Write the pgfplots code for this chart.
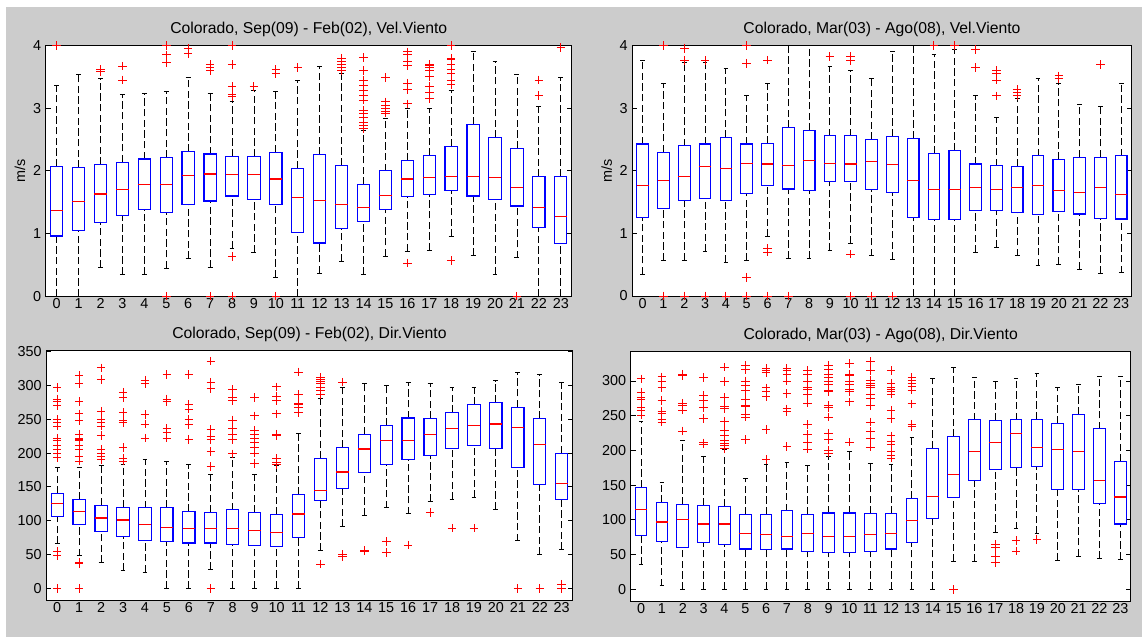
\documentclass[border=0pt]{standalone}
\usepackage{fontspec}
\setmainfont{Liberation Sans}
\usepackage{pgfplots}
\pgfplotsset{compat=1.18}
\usepgfplotslibrary{statistics}
\definecolor{figgray}{RGB}{204,204,204}
\definecolor{mblue}{RGB}{0,0,255}
\definecolor{mred}{RGB}{255,0,0}
\pgfplotsset{
  boxplot/draw/box/.code={\draw[mblue, line width=0.85pt] (boxplot box cs:\pgfplotsboxplotvalue{lower quartile},0) rectangle (boxplot box cs:\pgfplotsboxplotvalue{upper quartile},1);},
  boxplot/draw/median/.code={\draw[mred, line width=0.85pt] (boxplot box cs:\pgfplotsboxplotvalue{median},0) -- (boxplot box cs:\pgfplotsboxplotvalue{median},1);},
  boxplot/draw/lower whisker/.code={\draw[black, line width=0.65pt, dash pattern=on 5.5pt off 2.5pt] (boxplot box cs:\pgfplotsboxplotvalue{lower whisker},0.5) -- (boxplot box cs:\pgfplotsboxplotvalue{lower quartile},0.5);
     \draw[black, line width=0.75pt] (boxplot box cs:\pgfplotsboxplotvalue{lower whisker},0.3) -- (boxplot box cs:\pgfplotsboxplotvalue{lower whisker},0.7);},
  boxplot/draw/upper whisker/.code={\draw[black, line width=0.65pt, dash pattern=on 5.5pt off 2.5pt] (boxplot box cs:\pgfplotsboxplotvalue{upper quartile},0.5) -- (boxplot box cs:\pgfplotsboxplotvalue{upper whisker},0.5);
     \draw[black, line width=0.75pt] (boxplot box cs:\pgfplotsboxplotvalue{upper whisker},0.3) -- (boxplot box cs:\pgfplotsboxplotvalue{upper whisker},0.7);},
  bxp/.style={mark=+, mark size=3.2pt, mark options={mred, line width=0.7pt, solid}},
  every axis title shift=0pt,
  panel/.style={
    scale only axis, anchor=south west,
    xmin=-0.5, xmax=23.5, xtick={0,...,23},
    axis background/.style={fill=white},
    axis line style={black, line width=0.6pt},
    tick align=inside, xtick style={draw=none},
    ytick pos=both, yticklabel pos=left,
    major tick length=3.75pt,
    ytick style={black, line width=0.6pt},
    /pgf/number format/assume math mode=true,
    tick label style={font=\fontsize{10.8}{12}\selectfont},
    xticklabel style={inner sep=0pt, yshift=-1.5pt},
    yticklabel style={inner sep=0pt, xshift=-3.2pt},
    label style={font=\fontsize{10.8}{12}\selectfont},
    title style={font=\fontsize{11.8}{13}\selectfont, at={(0.5,1)}, anchor=base, yshift=9pt},
  }
}
\newcommand\B[7]{\addplot[bxp, boxplot prepared={draw direction=y, draw position=#1, box extend=0.56, lower whisker=#2, lower quartile=#3, median=#4, upper quartile=#5, upper whisker=#6}] table[row sep=\\, y index=0] {o\\#7};}
\newcommand\N[6]{\addplot[bxp, boxplot prepared={draw direction=y, draw position=#1, box extend=0.56, lower whisker=#2, lower quartile=#3, median=#4, upper quartile=#5, upper whisker=#6}] coordinates {};}
\begin{document}
\begin{tikzpicture}
\useasboundingbox (0,0) rectangle (856.5pt,477.75pt);
\fill[white] (0,0) rectangle (856.5pt,477.75pt);
\fill[figgray] (4.5pt,0) rectangle (856.5pt,472.5pt);

% Top-left
\begin{axis}[panel, at={(34.3pt,255.6pt)}, width=394.5pt, height=188pt,
  ymin=0, ymax=4, ytick={0,1,2,3,4}, ylabel={m/s},
  ylabel style={at={(axis description cs:-0.049,0.5)}, anchor=center},
  title={Colorado, Sep(09) - Feb(02), Vel.Viento}]
\B{0}{0}{0.96}{1.37}{2.07}{3.36}{4.0\\}
\N{1}{0}{1.05}{1.51}{2.05}{3.54}
\B{2}{0.46}{1.17}{1.63}{2.10}{3.47}{3.58\\3.62\\}
\B{3}{0.35}{1.29}{1.70}{2.14}{3.22}{3.45\\3.67\\}
\N{4}{0.35}{1.38}{1.78}{2.19}{3.23}
\B{5}{0.45}{1.34}{1.78}{2.21}{3.27}{4.0\\3.85\\3.73\\0\\}
\B{6}{0.60}{1.47}{1.92}{2.31}{3.49}{3.95\\3.87\\}
\B{7}{0.46}{1.52}{1.95}{2.27}{3.23}{3.70\\3.65\\3.60\\0\\}
\B{8}{0.76}{1.60}{1.94}{2.23}{3.10}{4.0\\3.70\\3.35\\3.22\\3.18\\0.63\\0\\}
\B{9}{0.70}{1.54}{1.94}{2.23}{3.28}{3.35\\}
\B{10}{0.30}{1.47}{1.87}{2.30}{3.27}{3.62\\3.55\\0\\}
\B{11}{0}{1.01}{1.57}{2.04}{3.45}{3.65\\}
\N{12}{0.37}{0.85}{1.53}{2.26}{3.66}
\B{13}{0.55}{1.08}{1.46}{2.09}{3.55}{3.80\\3.75\\3.70\\3.65\\3.60\\}
\B{14}{0.35}{1.19}{1.41}{1.78}{2.65}{3.81\\3.60\\3.44\\3.36\\3.28\\3.21\\3.13\\2.96\\2.91\\2.85\\2.78\\2.72\\2.68\\}
\B{15}{0.64}{1.39}{1.61}{2.00}{2.84}{3.49\\3.10\\3.05\\3.00\\2.95\\2.92\\}
\B{16}{0.72}{1.59}{1.87}{2.17}{3.00}{3.90\\3.85\\3.75\\3.68\\3.40\\3.30\\3.07\\0.53\\}
\B{17}{0.73}{1.62}{1.89}{2.24}{2.99}{3.70\\3.68\\3.65\\3.60\\3.50\\3.35\\3.25\\3.15\\}
\B{18}{0.95}{1.68}{1.91}{2.39}{3.29}{4.0\\3.80\\3.78\\3.70\\3.62\\3.55\\3.45\\3.38\\0.57\\}
\N{19}{0.65}{1.60}{1.91}{2.74}{3.91}
\N{20}{0.35}{1.54}{1.90}{2.53}{3.75}
\B{21}{0.61}{1.44}{1.74}{2.36}{3.54}{0\\}
\B{22}{0}{1.09}{1.41}{1.91}{3.02}{3.45\\3.20\\}
\B{23}{0}{0.84}{1.27}{1.91}{3.49}{3.97\\}
\end{axis}

% Top-right
\begin{axis}[panel, at={(474.2pt,255.75pt)}, width=374.5pt, height=187.7pt,
  ymin=0, ymax=4, ytick={0,1,2,3,4}, ylabel={m/s},
  ylabel style={at={(axis description cs:-0.0513,0.5)}, anchor=center},
  title={Colorado, Mar(03) - Ago(08), Vel.Viento}]
\N{0}{0.35}{1.26}{1.77}{2.43}{3.77}
\B{1}{0.57}{1.40}{1.84}{2.30}{3.39}{4.0\\0\\}
\B{2}{0.57}{1.53}{1.91}{2.40}{3.74}{3.96\\3.76\\0\\}
\B{3}{0.71}{1.56}{2.07}{2.43}{3.74}{3.76\\0\\}
\B{4}{0.54}{1.53}{2.04}{2.53}{3.64}{0\\}
\B{5}{0.57}{1.64}{2.12}{2.43}{3.20}{4.0\\3.72\\0.30\\0\\}
\B{6}{0.95}{1.77}{2.11}{2.44}{3.39}{3.77\\0.76\\0.70\\0\\}
\B{7}{0.60}{1.71}{2.09}{2.69}{4.3}{0\\}
\N{8}{0.60}{1.69}{2.16}{2.64}{4.3}
\B{9}{0.73}{1.83}{2.12}{2.56}{3.67}{3.83\\}
\B{10}{0.84}{1.83}{2.11}{2.56}{3.60}{3.83\\3.76\\0.67\\0\\}
\B{11}{0.64}{1.70}{2.15}{2.50}{3.48}{0\\}
\B{12}{0.58}{1.65}{2.10}{2.55}{3.91}{0\\}
\N{13}{0}{1.26}{1.84}{2.52}{4.3}
\B{14}{0}{1.22}{1.70}{2.28}{3.86}{4.0\\}
\B{15}{0}{1.22}{1.70}{2.33}{3.94}{4.0\\}
\B{16}{0.69}{1.36}{1.73}{2.11}{3.20}{3.94\\3.65\\}
\B{17}{0.78}{1.36}{1.70}{2.08}{2.85}{3.60\\3.55\\3.45\\3.20\\}
\B{18}{0.64}{1.34}{1.74}{2.07}{3.15}{3.30\\3.25\\3.20\\}
\N{19}{0.48}{1.30}{1.77}{2.24}{3.48}
\B{20}{0.51}{1.35}{1.68}{2.18}{3.39}{3.52\\3.48\\}
\N{21}{0.43}{1.31}{1.65}{2.22}{3.06}
\B{22}{0.36}{1.24}{1.73}{2.22}{3.03}{3.70\\}
\N{23}{0.37}{1.23}{1.62}{2.24}{3.40}
\end{axis}

% Bottom-left
\begin{axis}[panel, at={(34.7pt,27.75pt)}, width=394.8pt, height=187pt,
  ymin=-17.3, ymax=351.5, ytick={0,50,...,350},
  title={Colorado, Sep(09) - Feb(02), Dir.Viento}]
\B{0}{66}{106}{126}{140}{178}{297\\280\\276\\270\\250\\245\\240\\222\\218\\212\\205\\200\\193\\55\\48\\0\\}
\B{1}{48}{95}{114}{131}{179}{315\\303\\276\\258\\248\\228\\222\\220\\218\\212\\205\\195\\188\\38\\37\\0\\}
\B{2}{38}{84}{104}{123}{181}{326\\309\\262\\250\\245\\240\\226\\205\\200\\195\\190\\}
\B{3}{26}{77}{101}{120}{183}{290\\282\\260\\248\\245\\208\\192\\188\\}
\B{4}{24}{71}{94}{119}{190}{308\\303\\257\\243\\222\\}
\B{5}{0}{69}{90}{120}{187}{316\\280\\276\\236\\230\\222\\}
\B{6}{0}{67}{89}{114}{183}{316\\272\\265\\250\\242\\220\\}
\B{7}{28}{67}{89}{112}{169}{336\\305\\295\\235\\225\\220\\202\\180\\0\\}
\B{8}{0}{65}{89}{116}{194}{294\\282\\278\\249\\236\\227\\220\\199\\}
\B{9}{0}{63}{86}{112}{169}{282\\255\\234\\228\\222\\215\\208\\200\\185\\}
\B{10}{0}{62}{83}{109}{181}{298\\284\\278\\258\\228\\226\\192\\186\\183\\}
\B{11}{0}{75}{110}{139}{229}{320\\287\\274\\272\\268\\260\\}
\B{12}{56}{130}{145}{192}{281}{312\\309\\306\\303\\297\\292\\287\\36\\}
\B{13}{91}{147}{172}{208}{297}{305\\50\\47\\}
\B{14}{108}{171}{206}{228}{303}{56\\55\\}
\B{15}{119}{183}{219}{241}{300}{69\\53\\}
\B{16}{110}{191}{219}{252}{304}{64\\}
\B{17}{128}{196}{228}{251}{303}{112\\}
\B{18}{131}{207}{237}{260}{297}{89\\}
\B{19}{134}{211}{241}{272}{297}{89\\}
\N{20}{117}{207}{243}{275}{307}
\B{21}{70}{179}{238}{268}{319}{0\\}
\B{22}{50}{154}{213}{251}{316}{0\\}
\B{23}{57}{132}{155}{200}{304}{6\\0\\}
\end{axis}

% Bottom-right
\begin{axis}[panel, at={(473pt,27pt)}, width=375pt, height=187.5pt,
  ymin=-16.8, ymax=343.2, ytick={0,50,...,300},
  title={Colorado, Mar(03) - Ago(08), Dir.Viento}]
\B{0}{36}{77}{115}{147}{242}{303\\284\\276\\274\\262\\257\\251\\}
\B{1}{5}{69}{97}{125}{154}{306\\300\\290\\272\\256\\253\\245\\244\\241\\}
\B{2}{0}{60}{100}{122}{214}{310\\308\\268\\265\\258\\228\\}
\B{3}{0}{67}{94}{121}{192}{305\\279\\272\\262\\246\\211\\209\\}
\B{4}{0}{64}{94}{119}{201}{320\\299\\276\\264\\260\\242\\229\\222\\215\\210\\207\\203\\}
\B{5}{0}{58}{81}{108}{160}{322\\316\\300\\294\\286\\274\\265\\264\\252\\248\\216\\}
\B{6}{0}{57}{79}{108}{180}{318\\315\\312\\290\\285\\278\\230\\187\\}
\B{7}{0}{58}{76}{113}{182}{318\\315\\310\\300\\282\\260\\256\\206\\}
\B{8}{0}{55}{81}{108}{179}{315\\310\\300\\290\\288\\280\\268\\237\\223\\211\\202\\}
\B{9}{0}{53}{76}{110}{191}{322\\316\\310\\305\\300\\295\\287\\285\\265\\262\\248\\225\\216\\200\\196\\}
\B{10}{0}{53}{76}{110}{198}{325\\310\\308\\300\\295\\288\\285\\270\\212\\}
\B{11}{0}{55}{79}{109}{181}{328\\315\\301\\297\\293\\290\\280\\275\\265\\241\\227\\217\\205\\}
\B{12}{0}{58}{81}{109}{180}{315\\297\\291\\288\\285\\281\\258\\246\\221\\213\\208\\198\\193\\189\\}
\B{13}{0}{68}{99}{131}{219}{305\\301\\297\\292\\287\\267\\238\\234\\}
\N{14}{0}{102}{134}{203}{303}
\B{15}{40}{132}{165}{220}{319}{0\\}
\N{16}{40}{157}{198}{244}{305}
\B{17}{82}{172}{212}{243}{300}{65\\60\\48\\38\\}
\B{18}{87}{176}{224}{244}{303}{70\\55\\}
\B{19}{80}{177}{204}{245}{311}{72\\}
\N{20}{42}{144}{201}{239}{291}
\N{21}{48}{144}{198}{252}{295}
\N{22}{44}{124}{157}{231}{306}
\N{23}{43}{94}{133}{184}{306}
\end{axis}
\end{tikzpicture}
\end{document}
